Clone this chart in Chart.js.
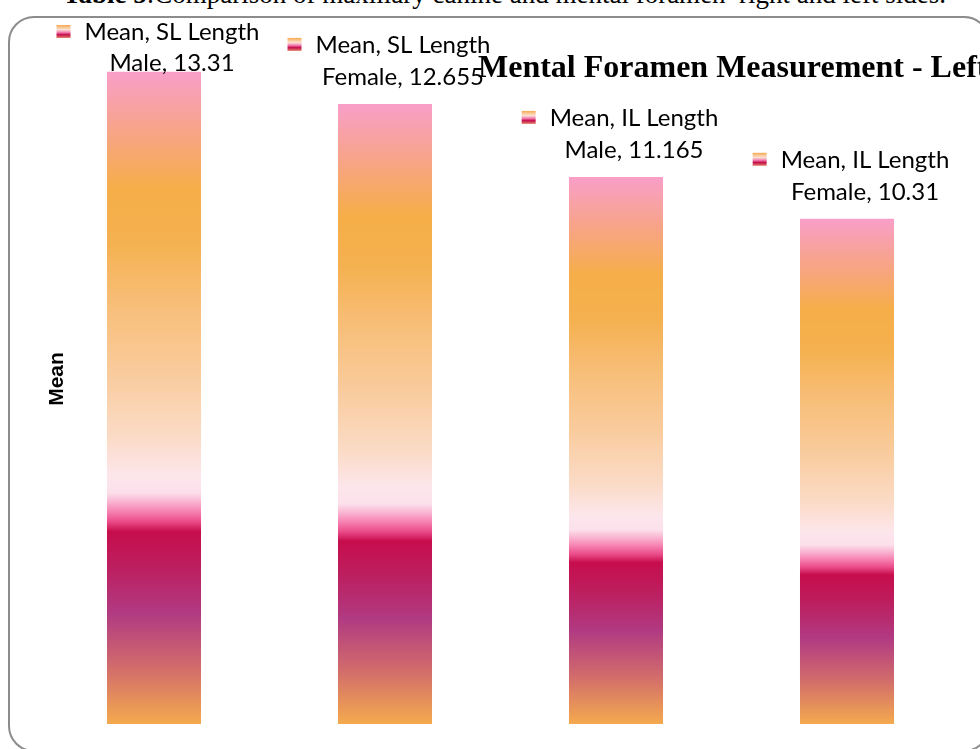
<!DOCTYPE html>
<html>
<head>
<meta charset="utf-8">
<script src="https://cdn.jsdelivr.net/npm/chart.js@4.4.1/dist/chart.umd.min.js"></script>
<style>
  html, body { margin: 0; padding: 0; background: #fff; }
  #page { position: relative; width: 980px; height: 749px; overflow: hidden; }
  #caption {
    position: absolute; left: 63px; top: -19px; white-space: nowrap;
    font-family: "Liberation Serif", "Times New Roman", serif; font-size: 27px; line-height: 27px; color: #000;
  }
  #frame {
    position: absolute; left: 8px; top: 16px; width: 982px; height: 736px;
    box-sizing: border-box; border: 2px solid #8c8c8c; border-radius: 26px;
  }
  #box { position: absolute; left: 0; top: 0; width: 980px; height: 749px; }
</style>
</head>
<body>
<div id="page">
  <div id="caption"><b>Table 5</b>:Comparison of maxillary canine and mental foramen&nbsp; right and left sides.</div>
  <div id="frame"></div>
  <div id="box"><canvas id="grafica"></canvas></div>
</div>
<script>
// Datos de la grafica
const seriesName = 'Mean';
const measures = ['SL Length', 'SL Length', 'IL Length', 'IL Length'];
const sexes = ['Male', 'Female', 'Male', 'Female'];
const meanValues = [13.31, 12.655, 11.165, 10.31];
const categories = measures.map((m, i) => m + ' ' + sexes[i]);

const chartTitle = 'Mental Foramen Measurement - Left';
const axisTitle = 'Mean';

// Degradado de las barras (de arriba hacia abajo)
const gradientStops = [
  [0.00, '#F99FC9'],
  [0.08, '#F7A38F'],
  [0.18, '#F5AE48'],
  [0.26, '#F5B14F'],
  [0.34, '#F7BC72'],
  [0.46, '#F9CB9C'],
  [0.56, '#FBDBC6'],
  [0.62, '#FDE6EC'],
  [0.645, '#FCE0EB'],
  [0.66, '#F9B2CF'],
  [0.675, '#F67FB0'],
  [0.69, '#EA4A88'],
  [0.705, '#C70D4C'],
  [0.76, '#BC1F5F'],
  [0.83, '#B13A82'],
  [0.91, '#D06A6C'],
  [1.00, '#F4AA4E']
];

function barGradient(ctx, top, bottom) {
  const g = ctx.createLinearGradient(0, top, 0, bottom);
  gradientStops.forEach(([p, c]) => g.addColorStop(p, c));
  return g;
}

// Icono pequeno de la leyenda junto a cada etiqueta
function drawKey(ctx, x, y) {
  const g = ctx.createLinearGradient(0, y, 0, y + 13);
  g.addColorStop(0, '#F6A94E');
  g.addColorStop(0.35, '#FBE1D0');
  g.addColorStop(0.55, '#F58AB8');
  g.addColorStop(0.75, '#C70D4C');
  g.addColorStop(1, '#E0866A');
  ctx.fillStyle = g;
  ctx.fillRect(x, y, 14, 13);
}

const textos = {
  id: 'textos',
  afterDatasetsDraw(chart) {
    const ctx = chart.ctx;
    ctx.save();

    // titulo
    ctx.fillStyle = '#000';
    ctx.font = 'bold 32px "Liberation Serif", "Times New Roman", serif';
    ctx.textAlign = 'left';
    ctx.textBaseline = 'alphabetic';
    ctx.fillText(chartTitle, 478, 77);

    // titulo del eje
    ctx.font = 'bold 21px "Liberation Sans", Arial, sans-serif';
    ctx.translate(57, 379);
    ctx.rotate(-Math.PI / 2);
    ctx.textAlign = 'center';
    ctx.textBaseline = 'middle';
    ctx.fillText(axisTitle, 0, 0);
    ctx.setTransform(1, 0, 0, 1, 0, 0);

    // etiquetas de datos
    const meta = chart.getDatasetMeta(0);
    ctx.font = '24px Lato, "Open Sans", sans-serif';
    ctx.textBaseline = 'middle';
    meta.data.forEach((bar, i) => {
      const line1 = seriesName + ', ' + measures[i];
      const line2 = sexes[i] + ', ' + meanValues[i];
      const w1 = ctx.measureText(line1).width;
      const blockW = 14 + 14 + w1;
      const left = bar.x + 4 - blockW / 2;
      let y2 = bar.y - 27;
      let y1 = y2 - 32;
      if (y1 < 32) { y1 = 32; y2 = y1 + 31; }
      drawKey(ctx, left, y1 - 7);
      ctx.fillStyle = '#000';
      ctx.textAlign = 'left';
      ctx.fillText(line1, left + 28, y1);
      ctx.textAlign = 'center';
      ctx.fillText(line2, left + 28 + w1 / 2, y2);
    });
    ctx.restore();
  }
};

new Chart(document.getElementById('grafica'), {
  type: 'bar',
  data: {
    labels: categories,
    datasets: [{
      label: seriesName,
      data: meanValues,
      backgroundColor: (c) => {
        const chart = c.chart;
        if (!chart.chartArea || c.raw === undefined) return '#F5AE48';
        const y = chart.scales.y;
        return barGradient(chart.ctx, y.getPixelForValue(c.raw), y.getPixelForValue(0));
      },
      borderWidth: 0,
      barPercentage: 0.407,
      categoryPercentage: 1
    }]
  },
  options: {
    responsive: true,
    maintainAspectRatio: false,
    animation: false,
    layout: { padding: { left: 38.5, right: 17.5, top: 38, bottom: 25 } },
    plugins: { legend: { display: false }, tooltip: { enabled: false } },
    scales: {
      x: { display: false },
      y: { display: false, min: 0, max: 14 }
    }
  },
  plugins: [textos]
});
</script>
</body>
</html>
